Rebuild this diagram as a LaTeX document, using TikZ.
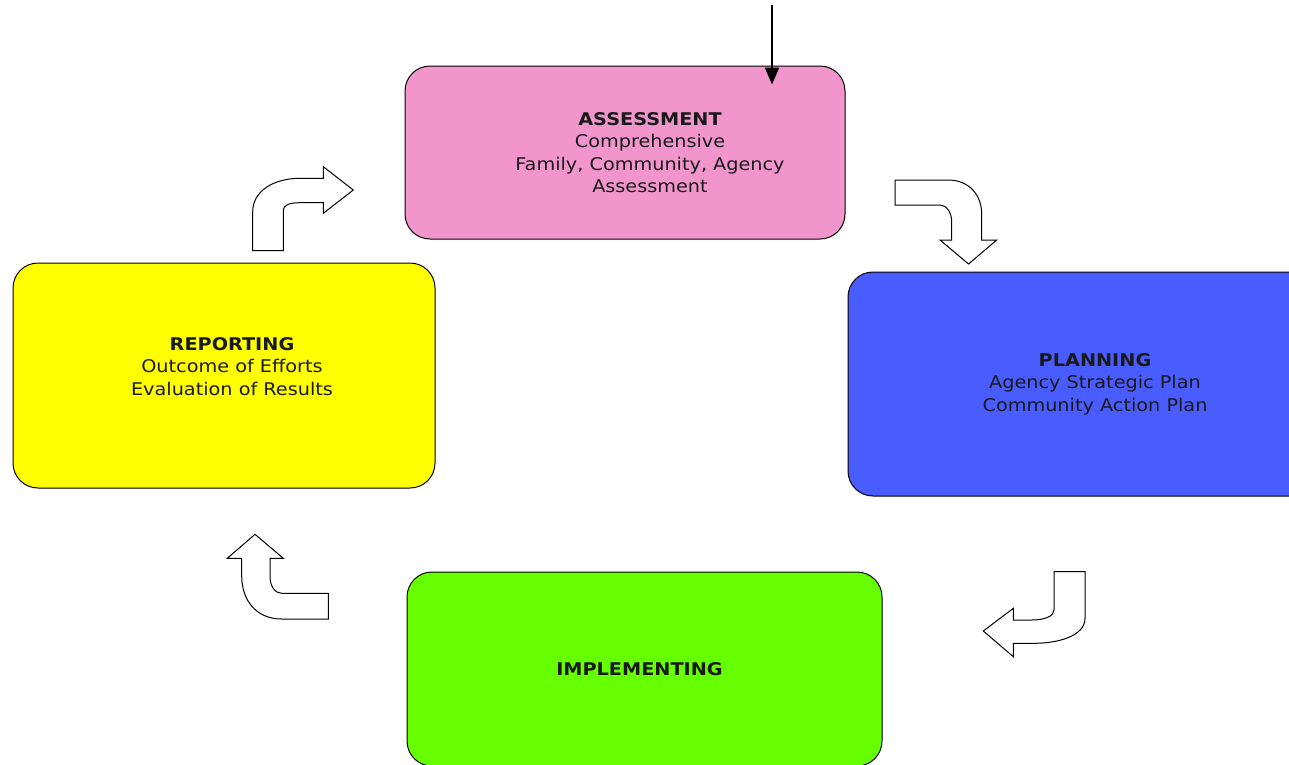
\documentclass[tikz,border=0pt]{standalone}
\usepackage{fontspec}
\setmainfont{DejaVu Sans}[FakeStretch=1.1]
\usepackage{xcolor}
\usetikzlibrary{arrows.meta, positioning}

\definecolor{assesspink}{RGB}{241,149,204}
\definecolor{planblue}{RGB}{72,92,255}
\definecolor{reportyellow}{RGB}{255,255,0}
\definecolor{implgreen}{RGB}{102,255,0}

\begin{document}
\begin{tikzpicture}[x=1pt, y=-1pt,
        block/.style={rectangle, draw, line width=1pt, rounded corners=25pt, align=center,
            font=\fontsize{17.5}{22.5}\selectfont, text=black!90},
        txt/.style={align=center, font=\fontsize{17.5}{22.5}\selectfont, text=black!90},
        bent/.style={draw, fill=white, line width=1pt, line join=miter},
        feed/.style={draw, line width=1.8pt, -{Triangle[length=17pt,width=14pt]}}]

        \useasboundingbox (0,0) rectangle (1289,764);

        % Nodes
        \node [block, fill=assesspink, minimum width=440pt, minimum height=173pt,
            label={[txt, xshift=25pt]center:\textbf{ASSESSMENT}\\Comprehensive\\Family, Community, Agency\\Assessment}]
            (assess) at (625,152.5) {};
        \node [block, fill=planblue, minimum width=494pt, minimum height=224pt] (plan) at (1095,384)
            {\textbf{PLANNING}\\Agency Strategic Plan\\Community Action Plan};
        \node [block, fill=implgreen, minimum width=475pt, minimum height=194pt,
            label={[txt, xshift=-5pt]center:\textbf{IMPLEMENTING}}] (impl) at (644.5,669) {};
        \node [block, fill=reportyellow, minimum width=422pt, minimum height=225pt,
            label={[txt, xshift=8pt, yshift=9pt]center:\textbf{REPORTING}\\Outcome of Efforts\\Evaluation of Results}]
            (report) at (224,375.5) {};
        \coordinate (start) at (772,5);

        % Edges
        \path [feed] (start) -- ([yshift=-19pt]assess.north -| start);

        % report -> assess
        \path [bent] (252.7,250.7) -- (283.3,250.7) -- (283.3,210)
            .. controls (283.3,205) and (290,202.7) .. (300,202.7) -- (323.3,202.7) -- (323.3,213.3)
            -- (353.3,190) -- (323.3,166.7) -- (323.3,178.3) -- (300,178.3)
            .. controls (275,178.3) and (252.7,190) .. (252.7,212) -- cycle;
        % assess -> plan
        \path [bent] (895,180) -- (948,180) .. controls (970,180) and (981.7,196) .. (981.7,214)
            -- (981.7,240) -- (996.7,240) -- (968.5,264) -- (940,240) -- (951.7,240) -- (951.7,221.7)
            .. controls (951.7,212) and (946,205) .. (940,205) -- (895,205) -- cycle;
        % plan -> impl
        \path [bent] (1054,571.7) -- (1085,571.7) -- (1085,618.3)
            .. controls (1085,636) and (1058,643.3) .. (1034,643.3) -- (1013.3,643.3) -- (1013.3,656.7)
            -- (983.3,631) -- (1013.3,608.3) -- (1013.3,620) -- (1031.7,620)
            .. controls (1045,620) and (1054,616) .. (1054,610) -- cycle;
        % impl -> report
        \path [bent] (328.3,593.3) -- (328.3,619) -- (281.7,619)
            .. controls (256,619) and (241.7,600) .. (241.7,576) -- (241.7,558.3) -- (227.3,558.3)
            -- (255,534.3) -- (283.3,558.3) -- (270,558.3) -- (270,576.7)
            .. controls (270,586) and (275,593.3) .. (281.7,593.3) -- cycle;
    \end{tikzpicture}
\end{document}
